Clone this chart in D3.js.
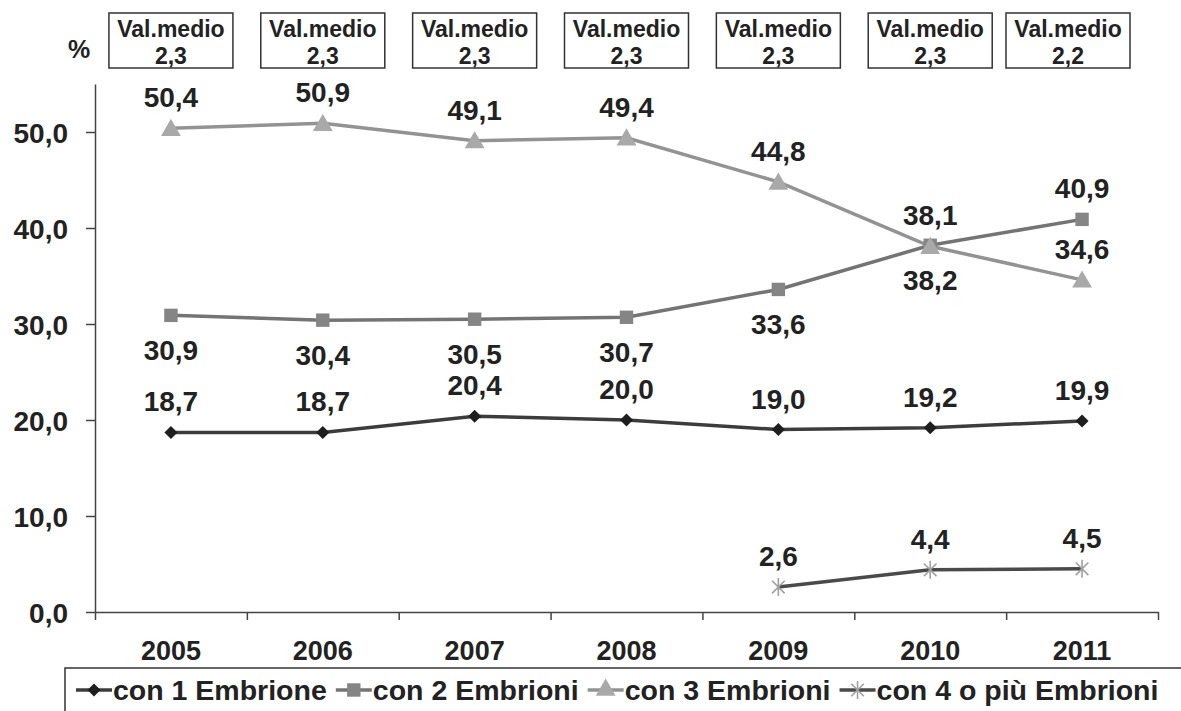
<!DOCTYPE html>
<html lang="it">
	<head>
		<meta charset="utf-8">
		<title>Embrioni trasferiti</title>
		<script type="text/javascript" src="https://cdn.jsdelivr.net/npm/d3@7"></script>
		<style type="text/css">
			body { margin: 0; background: #fff; }
			text { font-family: "Liberation Sans", Arial, sans-serif; font-weight: bold; fill: #222; }
		</style>
	</head>
	<body>
		<script type="text/javascript">

			var w = 1181;
			var h = 711;

			// data
			var years = ["2005", "2006", "2007", "2008", "2009", "2010", "2011"];
			var con1 = [18.7, 18.7, 20.4, 20.0, 19.0, 19.2, 19.9];
			var con2 = [30.9, 30.4, 30.5, 30.7, 33.6, 38.2, 40.9];
			var con3 = [50.4, 50.9, 49.1, 49.4, 44.8, 38.1, 34.6];
			var con4 = [null, null, null, null, 2.6, 4.4, 4.5];
			var valMedio = ["2,3", "2,3", "2,3", "2,3", "2,3", "2,3", "2,2"];
			var yTicks = [0, 10, 20, 30, 40, 50];
			var seriesNames = ["con 1 Embrione", "con 2 Embrioni", "con 3 Embrioni", "con 4 o più Embrioni"];

			var fmt = function(v) { return d3.format(".1f")(v).replace(".", ","); };

			var series = [
				{ name: seriesNames[0], values: con1, line: "#3c3c3c", fill: "#1e1e1e", marker: "diamond" },
				{ name: seriesNames[1], values: con2, line: "#747474", fill: "#858585", marker: "square" },
				{ name: seriesNames[2], values: con3, line: "#939393", fill: "#a9a9a9", marker: "triangle" },
				{ name: seriesNames[3], values: con4, line: "#4a4a4a", fill: "#a0a0a0", marker: "star" }
			];

			var xScale = d3.scaleBand().domain(years).range([95, 1158]);
			var xMid = function(y) { return xScale(y) + xScale.bandwidth() / 2; };
			var yScale = d3.scaleLinear().domain([0, 55]).range([612, 84]);

			var svg = d3.select("body")
						.append("svg")
						.attr("width", w)
						.attr("height", h);

			// y axis
			var yAxis = svg.append("g")
				.attr("transform", "translate(95,0)")
				.call(d3.axisLeft(yScale).tickValues(yTicks).tickSize(9).tickSizeOuter(0).tickPadding(18).tickFormat(fmt));
			yAxis.selectAll("text").style("font-size", "28px").attr("dy", "0.36em");
			yAxis.selectAll("line, path").attr("stroke", "#444").attr("stroke-width", 1.5);

			// x axis: ticks on category boundaries
			var xEdge = d3.scaleLinear().domain([0, years.length]).range(xScale.range());
			var xAxis = svg.append("g")
				.attr("transform", "translate(0,612)")
				.call(d3.axisBottom(xEdge).tickValues(d3.range(years.length + 1)).tickSize(8).tickSizeOuter(0).tickFormat(""));
			xAxis.selectAll("line, path").attr("stroke", "#444").attr("stroke-width", 1.5);

			svg.selectAll("text.year")
				.data(years)
				.enter()
				.append("text")
				.attr("class", "year")
				.attr("x", function(d) { return xMid(d); })
				.attr("y", 660)
				.attr("text-anchor", "middle")
				.style("font-size", "27px")
				.text(function(d) { return d; });

			// "%" label
			svg.append("text")
				.attr("x", 79)
				.attr("y", 58)
				.attr("text-anchor", "middle")
				.style("font-size", "25px")
				.text("%");

			// boxes "Val.medio"
			var boxW = 124, boxH = 55;
			var boxes = svg.selectAll("g.box")
				.data(valMedio)
				.enter()
				.append("g")
				.attr("class", "box")
				.attr("transform", function(d, i) {
					var cx = Math.min(xMid(years[i]), 1130 - boxW / 2);
					return "translate(" + (cx - boxW / 2) + ",13)";
				});
			boxes.append("rect")
				.attr("width", boxW)
				.attr("height", boxH)
				.attr("fill", "#fff")
				.attr("stroke", "#333")
				.attr("stroke-width", 1.5);
			boxes.append("text")
				.attr("x", boxW / 2)
				.attr("y", 24)
				.attr("text-anchor", "middle")
				.style("font-size", "23px")
				.text("Val.medio");
			boxes.append("text")
				.attr("x", boxW / 2)
				.attr("y", 51)
				.attr("text-anchor", "middle")
				.style("font-size", "23px")
				.text(function(d) { return d; });

			// marker paths
			var markerPath = function(type) {
				if (type == "diamond") return d3.symbol().type(d3.symbolSquare).size(85)();
				if (type == "square") return d3.symbol().type(d3.symbolSquare).size(180)();
				if (type == "triangle") return d3.symbol().type(d3.symbolTriangle).size(170)();
				var r = 9, a = r * 0.7;
				return "M" + (-a) + "," + (-a) + "L" + a + "," + a +
					"M" + (-a) + "," + a + "L" + a + "," + (-a) +
					"M0," + (-r) + "L0," + r;
			};
			var markerRot = function(type) { return type == "diamond" ? " rotate(45)" : ""; };

			var line = d3.line()
				.defined(function(d) { return d != null; })
				.x(function(d, i) { return xMid(years[i]); })
				.y(function(d) { return yScale(d); });

			series.forEach(function(s, k) {
				svg.append("path")
					.datum(s.values)
					.attr("d", line)
					.attr("fill", "none")
					.attr("stroke", s.line)
					.attr("stroke-width", 3.5);
			});

			series.forEach(function(s, k) {
				var pts = s.values.map(function(v, i) { return { v: v, i: i }; })
					.filter(function(d) { return d.v != null; });

				svg.selectAll("path.m" + k)
					.data(pts)
					.enter()
					.append("path")
					.attr("class", "m" + k)
					.attr("d", markerPath(s.marker))
					.attr("transform", function(d) {
						var dy = s.marker == "triangle" ? 2 : 0;
						return "translate(" + xMid(years[d.i]) + "," + (yScale(d.v) + dy) + ")" + markerRot(s.marker);
					})
					.attr("fill", s.marker == "star" ? "none" : s.fill)
					.attr("stroke", s.marker == "star" ? s.fill : "none")
					.attr("stroke-width", 1.6);

				// labels: "con 2" sits below its points except the last one
				svg.selectAll("text.l" + k)
					.data(pts)
					.enter()
					.append("text")
					.attr("class", "l" + k)
					.attr("x", function(d) { return xMid(years[d.i]); })
					.attr("y", function(d) {
						var below = (k == 1 && d.i < years.length - 1);
						return yScale(d.v) + (below ? 45 : -21);
					})
					.attr("text-anchor", "middle")
					.style("font-size", "28px")
					.text(function(d) { return fmt(d.v); });
			});

			// legend
			svg.append("rect")
				.attr("x", 65)
				.attr("y", 668)
				.attr("width", 1140)
				.attr("height", 80)
				.attr("fill", "none")
				.attr("stroke", "#333")
				.attr("stroke-width", 1.5);

			var lx = 76;
			series.forEach(function(s) {
				var g = svg.append("g").attr("transform", "translate(" + lx + ",690)");
				g.append("line")
					.attr("x1", 0).attr("x2", 36)
					.attr("stroke", s.line)
					.attr("stroke-width", 3.5);
				g.append("path")
					.attr("d", markerPath(s.marker))
					.attr("transform", "translate(18,0)" + markerRot(s.marker))
					.attr("fill", s.marker == "star" ? "none" : s.fill)
					.attr("stroke", s.marker == "star" ? s.fill : "none")
					.attr("stroke-width", 1.6);
				var t = g.append("text")
					.attr("x", 37)
					.attr("y", 10)
					.style("font-size", "28.5px")
					.text(s.name);
				lx += 37 + t.node().getComputedTextLength() + 9;
			});

		</script>
	</body>
</html>
